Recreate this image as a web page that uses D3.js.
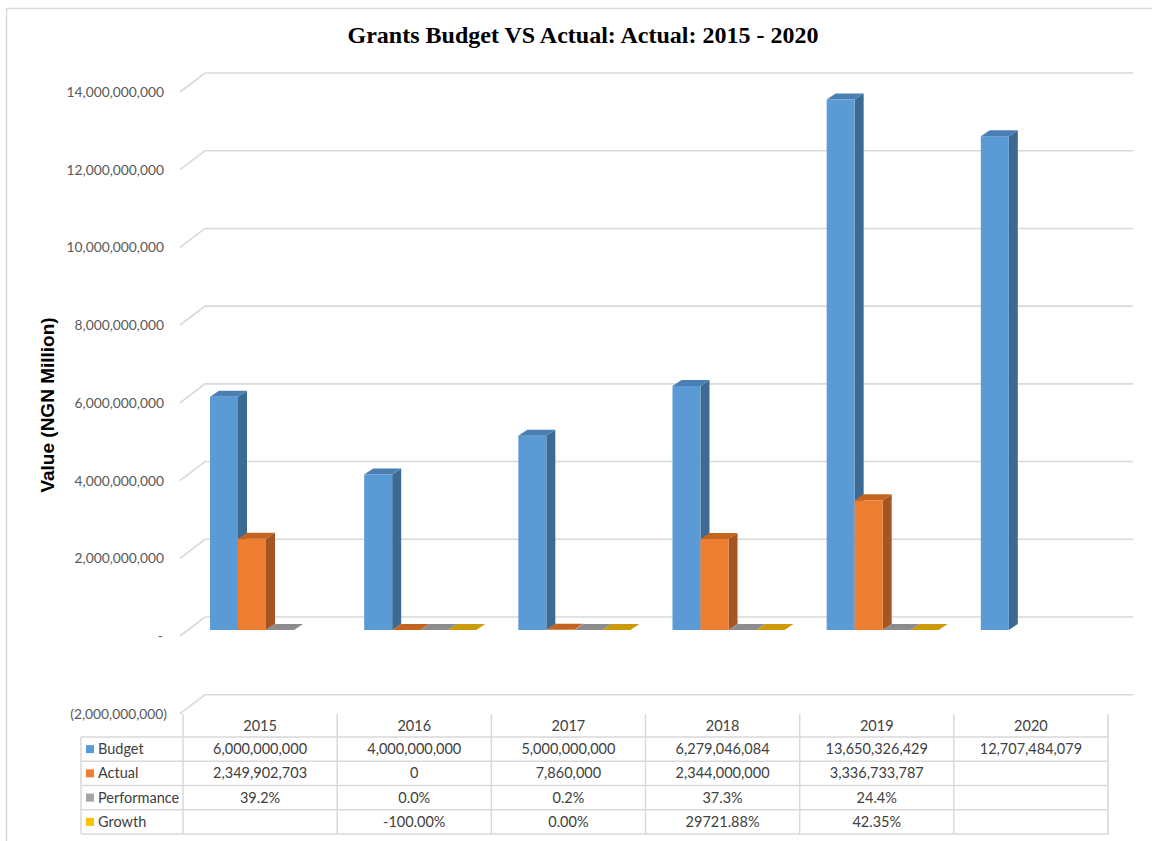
<!DOCTYPE html>
<html>
<head>
<meta charset="utf-8">
<script src="https://cdn.jsdelivr.net/npm/d3@7"></script>
<style>
  html, body { margin: 0; padding: 0; background: #fff; }
  svg { display: block; }
</style>
</head>
<body>
<svg id="chart" width="1152" height="841"></svg>
<script>
// Grants budget vs actual, 2015 - 2020
const years = ["2015", "2016", "2017", "2018", "2019", "2020"];
const seriesNames = ["Budget", "Actual", "Performance", "Growth"];
const budget = [6000000000, 4000000000, 5000000000, 6279046084, 13650326429, 12707484079];
const actual = [2349902703, 0, 7860000, 2344000000, 3336733787, null];
const performance = [0.392, 0.0, 0.002, 0.373, 0.244, null];
const growth = [null, -1.0, 0.0, 297.2188, 0.4235, null];
const yTicks = [-2e9, 0, 2e9, 4e9, 6e9, 8e9, 10e9, 12e9, 14e9];

const seriesValues = [budget, actual, performance, growth];
const seriesStyle = [
  { front: "#5b9bd5", side: "#3d6a93", top: "#4a7fb3" },
  { front: "#ed7d31", side: "#a5551f", top: "#c4641f" },
  { front: "#a5a5a5", side: "#6f6f6f", top: "#8c8c8c" },
  { front: "#ffc000", side: "#b08400", top: "#cc9a06" }
];
const loc = d3.formatLocale({ decimal: ".", thousands: ",", grouping: [3], currency: ["", ""], minus: "-" });
const tableFormats = [loc.format(","), loc.format(","), loc.format(".1%"), loc.format(".2%")];

const svg = d3.select("#chart");
const grid = "#d9d9d9";

// chart area border
svg.append("path")
  .attr("d", "M6.5,900 V8.5 H1200")
  .attr("fill", "none").attr("stroke", grid).attr("stroke-width", 1.5);

// title
svg.append("text")
  .attr("x", 583).attr("y", 43)
  .attr("text-anchor", "middle")
  .attr("font-family", "'Liberation Serif', 'Times New Roman', serif")
  .attr("font-weight", "bold").attr("font-size", 24)
  .attr("fill", "#000")
  .text("Grants Budget VS Actual: Actual: 2015 - 2020");

// y axis title
svg.append("text")
  .attr("transform", "translate(54,405) rotate(-90)")
  .attr("text-anchor", "middle")
  .attr("font-family", "'Liberation Sans', Arial, sans-serif")
  .attr("font-weight", "bold").attr("font-size", 19)
  .attr("fill", "#000")
  .text("Value (NGN Million)");

// scales: y maps onto the back wall; front and bar planes are shifted copies
const y = d3.scaleLinear().domain([0, 14e9]).range([617, 73]);
const wallLeft = 205, wallRight = 1133;
const frontLeft = 180, frontShift = 19;
const barShift = 13;
const depthX = 9, depthY = -6;

const x = d3.scaleBand().domain(years).range([183, 1108]).paddingInner(0).paddingOuter(0);
const xs = d3.scaleBand().domain(seriesNames).range([27, 27 + 112]);

// gridlines on the back wall with receding edges
const gridG = svg.append("g");
yTicks.forEach(v => {
  const yb = y(v);
  gridG.append("path")
    .attr("d", `M${frontLeft},${yb + frontShift} L${wallLeft},${yb} H${wallRight}`)
    .attr("fill", "none").attr("stroke", grid).attr("stroke-width", 1.6);
});

// tick labels
const comma = loc.format(",");
const tickFmt = v => v === 0 ? "-" : (v < 0 ? "(" + comma(-v) + ")" : comma(v));
svg.append("g").selectAll("text").data(yTicks).join("text")
  .attr("x", d => d < 0 ? 167 : (d === 0 ? 163 : 164))
  .attr("y", d => y(d) + frontShift + 5)
  .attr("text-anchor", "end")
  .attr("font-family", "Lato, 'Noto Sans', sans-serif")
  .attr("font-size", 13.8)
  .attr("fill", "#595959")
  .text(tickFmt);

// 3D columns
const barsG = svg.append("g");
years.forEach((yr, i) => {
  seriesNames.forEach((s, k) => {
    const v = seriesValues[k][i];
    if (v === null || v === undefined) return;
    const st = seriesStyle[k];
    const x0 = x(yr) + xs(s);
    const w = xs.bandwidth();
    const yBase = y(0) + barShift;
    const yTop = y(Math.max(v, 0)) + barShift;
    const g = barsG.append("g");
    if (yBase - yTop > 0.5) {
      // side face
      g.append("path")
        .attr("d", `M${x0 + w},${yTop} L${x0 + w + depthX},${yTop + depthY} L${x0 + w + depthX},${yBase + depthY} L${x0 + w},${yBase} Z`)
        .attr("fill", st.side);
      // front face
      g.append("rect")
        .attr("x", x0).attr("y", yTop)
        .attr("width", w).attr("height", yBase - yTop)
        .attr("fill", st.front);
    }
    // top face
    g.append("path")
      .attr("d", `M${x0},${yTop} L${x0 + depthX},${yTop + depthY} L${x0 + w + depthX},${yTop + depthY} L${x0 + w},${yTop} Z`)
      .attr("fill", st.top);
  });
});

// data table
const tableTop = 714, headerBottom = 737, rowH = 24.25;
const labelLeft = 81, tableRight = 1108;
const rowLines = d3.range(5).map(r => headerBottom + r * rowH);
const tbl = svg.append("g");

rowLines.forEach(ry => {
  tbl.append("line")
    .attr("x1", labelLeft).attr("x2", tableRight)
    .attr("y1", ry).attr("y2", ry)
    .attr("stroke", grid).attr("stroke-width", 1.5);
});
tbl.append("line")
  .attr("x1", labelLeft).attr("x2", labelLeft)
  .attr("y1", headerBottom).attr("y2", rowLines[4])
  .attr("stroke", grid).attr("stroke-width", 1.5);
const colEdges = years.map(yr => x(yr)).concat([x(years[years.length - 1]) + x.bandwidth()]);
colEdges.forEach(cx => {
  tbl.append("line")
    .attr("x1", cx).attr("x2", cx)
    .attr("y1", tableTop).attr("y2", rowLines[4])
    .attr("stroke", grid).attr("stroke-width", 1.5);
});

const cellFont = "Lato, 'Noto Sans', sans-serif";
const cellSize = 14.5;
// header years
tbl.selectAll("text.yr").data(years).join("text")
  .attr("class", "yr")
  .attr("x", d => x(d) + x.bandwidth() / 2)
  .attr("y", (tableTop + headerBottom) / 2 + 5)
  .attr("text-anchor", "middle")
  .attr("font-family", cellFont).attr("font-size", cellSize)
  .attr("fill", "#404040")
  .text(d => d);

seriesNames.forEach((s, k) => {
  const cy = headerBottom + k * rowH + rowH / 2;
  tbl.append("rect")
    .attr("x", 86).attr("y", cy - 4)
    .attr("width", 8).attr("height", 8)
    .attr("fill", seriesStyle[k].front);
  tbl.append("text")
    .attr("x", 98).attr("y", cy + 5)
    .attr("font-family", cellFont).attr("font-size", cellSize)
    .attr("fill", "#404040")
    .text(s);
  years.forEach((yr, i) => {
    const v = seriesValues[k][i];
    if (v === null || v === undefined) return;
    tbl.append("text")
      .attr("x", x(yr) + x.bandwidth() / 2)
      .attr("y", cy + 5)
      .attr("text-anchor", "middle")
      .attr("font-family", cellFont).attr("font-size", cellSize)
      .attr("fill", "#404040")
      .text(tableFormats[k](v));
  });
});
</script>
</body>
</html>
